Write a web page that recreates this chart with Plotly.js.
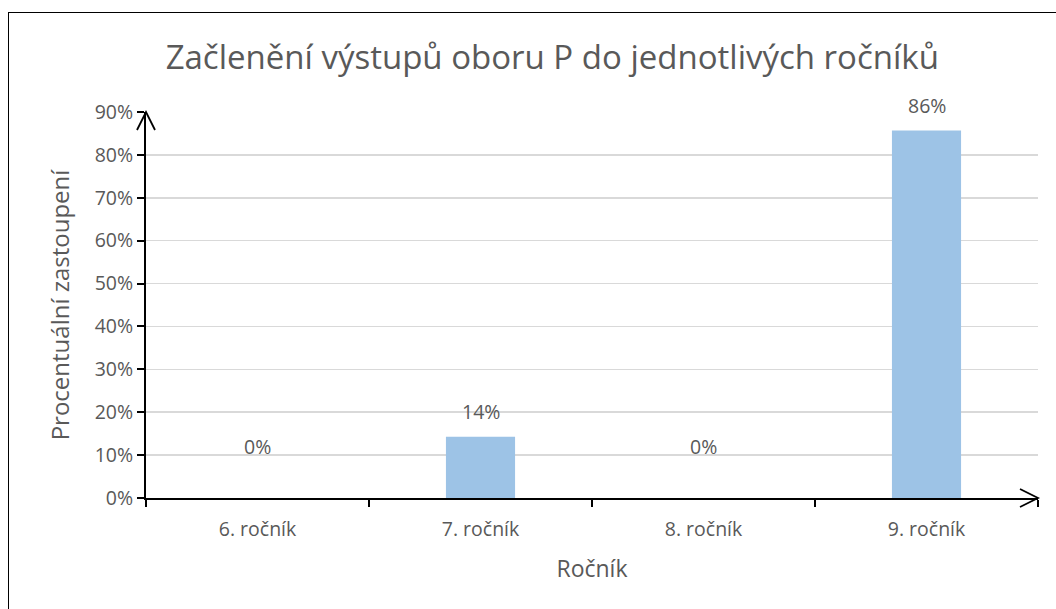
<!DOCTYPE html>
<html><head><meta charset="utf-8">
<script src="https://cdn.plot.ly/plotly-3.0.1.min.js"></script>
<style>
html,body{margin:0;padding:0;background:#fff;}
#chart{width:1056px;height:609px;position:relative;}
#frame{position:absolute;left:8px;top:12px;width:1100px;height:700px;border-left:1.5px solid #000;border-top:1.5px solid #000;pointer-events:none;z-index:10;}
</style>
</head><body>
<div id="chart"></div>
<div id="frame"></div>
<script>
const categories = ["6. ročník", "7. ročník", "8. ročník", "9. ročník"];
const values = [0, 0.143, 0, 0.857];
const labels = ["0%", "14%", "0%", "86%"];
const yTickVals = [0, 0.1, 0.2, 0.3, 0.4, 0.5, 0.6, 0.7, 0.8, 0.9];

const FONT = "Open Sans, Liberation Sans, sans-serif";
const GRAY = "#595959";

const annotations = categories.map((c, i) => ({
  x: c, y: values[i], xref: "x", yref: "y",
  text: labels[i], showarrow: false, yanchor: "middle",
  yshift: values[i] > 0 ? 25 : 52,
  font: {family: FONT, size: 19.5, color: GRAY}
}));

const shapes = [
  {type: "path", xref: "paper", yref: "paper", xsizemode: "pixel", ysizemode: "pixel",
   xanchor: 0, yanchor: 1, path: "M -9,-18 L 0,0 L 9,-18",
   line: {color: "#000", width: 1.8}},
  {type: "path", xref: "paper", yref: "paper", xsizemode: "pixel", ysizemode: "pixel",
   xanchor: 1, yanchor: 0, path: "M -18,9 L 0,0 L -18,-9",
   line: {color: "#000", width: 1.8}}
];

Plotly.newPlot("chart", [{
  type: "bar", x: categories, y: values,
  marker: {color: "#9DC3E6"}, width: 0.31, hoverinfo: "none"
}], {
  width: 1056, height: 609,
  margin: {l: 146, r: 18, t: 112, b: 111},
  paper_bgcolor: "#fff", plot_bgcolor: "#fff",
  showlegend: false,
  title: {text: "Začlenění výstupů oboru P do jednotlivých ročníků",
    font: {family: FONT, size: 33, color: GRAY}, x: 0.523, xanchor: "center", y: 0.905, yanchor: "middle"},
  xaxis: {
    type: "category", range: [-0.5, 3.5],
    showline: true, linecolor: "#000", linewidth: 2,
    ticks: "outside", tickson: "boundaries", ticklen: 7, tickcolor: "#000", tickwidth: 2,
    tickfont: {family: FONT, size: 19.5, color: GRAY}, ticklabelstandoff: 13,
    title: {text: "Ročník", font: {family: FONT, size: 23, color: GRAY}, standoff: 19},
    showgrid: false, zeroline: false, fixedrange: true
  },
  yaxis: {
    range: [0, 0.9], tickvals: yTickVals, tickformat: ".0%",
    showline: true, linecolor: "#000", linewidth: 2,
    ticks: "outside", ticklen: 7, tickcolor: "#000", tickwidth: 2,
    tickfont: {family: FONT, size: 19.5, color: GRAY},
    showgrid: true, gridcolor: "#d9d9d9", gridwidth: 1.5, zeroline: false,
    title: {text: "Procentuální zastoupení", font: {family: FONT, size: 24, color: GRAY}, standoff: 18},
    fixedrange: true
  },
  annotations: annotations,
  shapes: shapes,
  bargap: 0.69
}, {displayModeBar: false, staticPlot: true});
</script>
</body></html>
